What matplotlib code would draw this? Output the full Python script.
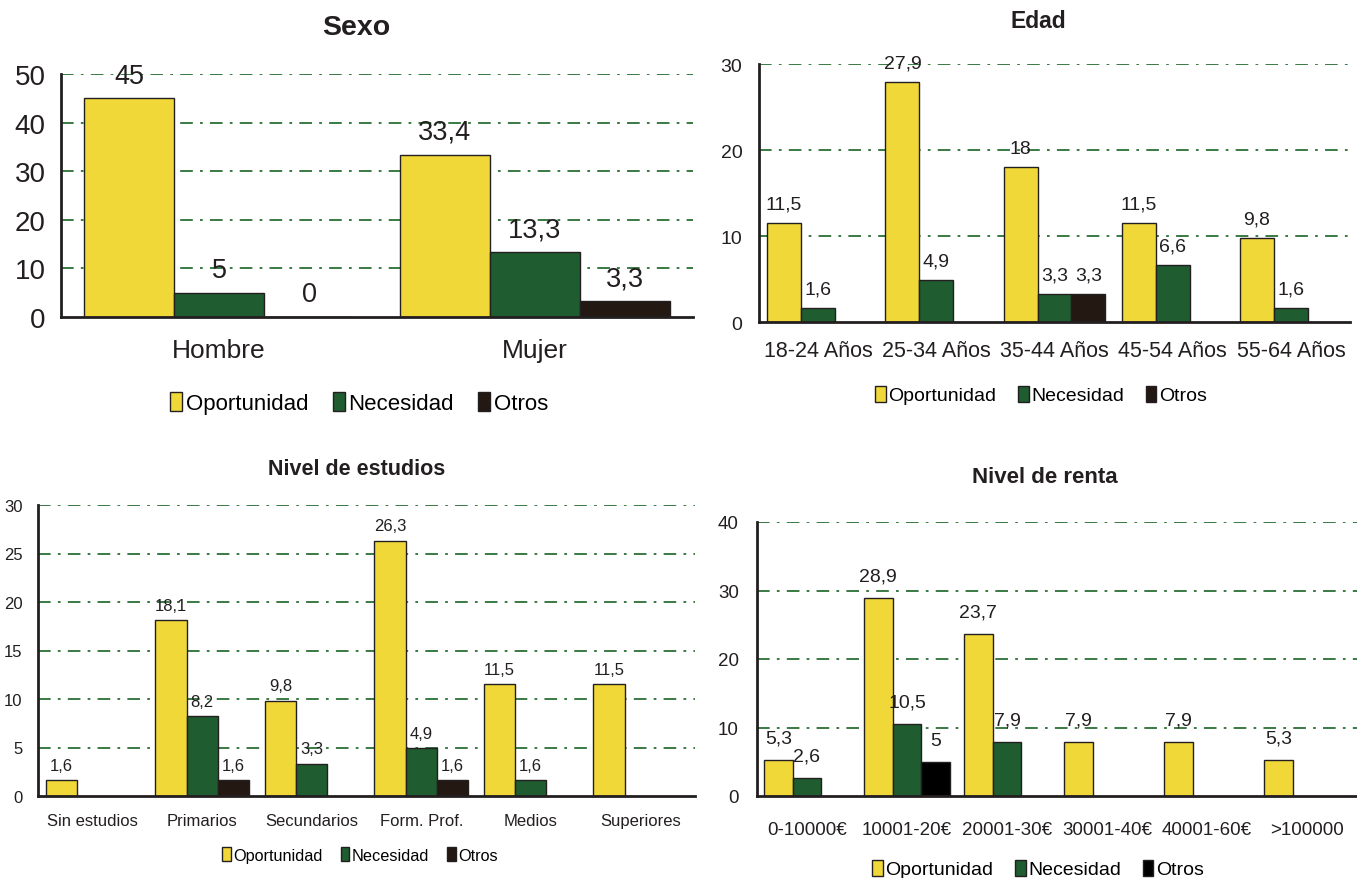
import numpy as np
import matplotlib
matplotlib.use("Agg")
import matplotlib.pyplot as plt
from matplotlib.patches import Patch

plt.rcParams['font.family'] = ['Liberation Sans', 'DejaVu Sans']

nan = np.nan

# Sexo
sexo_cats = ['Hombre', 'Mujer']
sexo_op = [45, 33.4]
sexo_nec = [5, 13.3]
sexo_otr = [0, 3.3]

# Edad
edad_cats = ['18-24 Años', '25-34 Años', '35-44 Años', '45-54 Años', '55-64 Años']
edad_op = [11.5, 27.9, 18, 11.5, 9.8]
edad_nec = [1.6, 4.9, 3.3, 6.6, 1.6]
edad_otr = [nan, nan, 3.3, nan, nan]

# Nivel de estudios
est_cats = ['Sin estudios', 'Primarios', 'Secundarios', 'Form. Prof.', 'Medios', 'Superiores']
est_op = [1.6, 18.1, 9.8, 26.3, 11.5, 11.5]
est_nec = [nan, 8.2, 3.3, 4.9, 1.6, nan]
est_otr = [nan, 1.6, nan, 1.6, nan, nan]

# Nivel de renta
renta_cats = ['0-10000€', '10001-20€', '20001-30€', '30001-40€', '40001-60€', '>100000']
renta_op = [5.3, 28.9, 23.7, 7.9, 7.9, 5.3]
renta_nec = [2.6, 10.5, 7.9, nan, nan, nan]
renta_otr = [nan, 5, nan, nan, nan, nan]

series_names = ['Oportunidad', 'Necesidad', 'Otros']
YELLOW = '#f1d839'
GREEN = '#1f5c30'
DARK = '#231812'
GRID = '#2a6e35'
AXIS = '#231f20'

W, H = 1357, 879
fig = plt.figure(figsize=(W / 100, H / 100), dpi=100)


def box(left, right, top, bottom):
    return [left / W, 1 - bottom / H, (right - left) / W, (bottom - top) / H]


def fmt(v):
    return ('%g' % v).replace('.', ',')


def panel(rect, cats, series, colors, ymax, ystep, title, title_xy, title_fs,
          fs, xtick_fs, ytick_fs, xpad, ypad, lab_off, leg_xy, leg_fs, bw=0.287):
    ax = fig.add_axes(box(*rect))
    n = len(cats)
    x = np.arange(n)
    for k, (vals, col) in enumerate(zip(series, colors)):
        vals = np.array(vals, dtype=float)
        pos = x + (k - 1) * bw
        ok = ~np.isnan(vals)
        ax.bar(pos[ok], vals[ok], width=bw, color=col, edgecolor=AXIS,
               linewidth=1.0, zorder=3)
        for p, v in zip(pos[ok], vals[ok]):
            ax.annotate(fmt(v), (p, v), xytext=(0, lab_off), textcoords='offset points',
                        ha='center', va='bottom', fontsize=fs, color=AXIS, zorder=4)
    ax.set_xlim(-0.5, n - 0.5)
    ax.set_ylim(0, ymax)
    ticks = np.arange(0, ymax + 0.1, ystep)
    ax.set_yticks(ticks)
    ax.set_yticklabels([('%g' % t) for t in ticks])
    for t in ticks[1:]:
        ax.axhline(t, color=GRID, lw=1.3, dashes=(7, 4, 1.5, 4), zorder=1)
    ax.set_xticks(x)
    ax.set_xticklabels(cats)
    for s in ['top', 'right']:
        ax.spines[s].set_visible(False)
    for s in ['left', 'bottom']:
        ax.spines[s].set_color(AXIS)
        ax.spines[s].set_linewidth(2)
    ax.spines['bottom'].set_zorder(5)
    ax.tick_params(axis='both', length=0, colors=AXIS)
    ax.tick_params(axis='x', pad=xpad, labelsize=xtick_fs)
    ax.tick_params(axis='y', pad=ypad, labelsize=ytick_fs)
    fig.text(title_xy[0] / W, 1 - title_xy[1] / H, title, ha='center', va='center',
             fontsize=title_fs, fontweight='bold', color=AXIS)
    handles = [Patch(facecolor=c, edgecolor=AXIS, linewidth=1) for c in colors]
    fig.legend(handles, series_names, loc='center', ncol=3, frameon=False,
               bbox_to_anchor=(leg_xy[0] / W, 1 - leg_xy[1] / H),
               fontsize=leg_fs, handlelength=0.55, handleheight=0.9,
               handletextpad=0.15, columnspacing=1.1, borderaxespad=0)
    return ax


panel((61, 693, 75, 318), sexo_cats, [sexo_op, sexo_nec, sexo_otr],
      [YELLOW, GREEN, DARK], 50, 10, 'Sexo', (356, 28), 20.5,
      19.5, 19, 20, 15, 11, 7, (359, 404), 16, bw=0.285)

panel((759, 1350, 65, 323), edad_cats, [edad_op, edad_nec, edad_otr],
      [YELLOW, GREEN, DARK], 30, 10, 'Edad', (1038, 22), 16.5,
      14, 15.5, 14, 13, 12, 7.5, (1041, 396), 14)

panel((38, 695, 506, 797), est_cats, [est_op, est_nec, est_otr],
      [YELLOW, GREEN, DARK], 30, 5, 'Nivel de estudios', (357, 470), 15.5,
      12, 12, 12, 12, 11, 5.5, (360, 856), 11.7)

panel((757, 1357, 523, 797), renta_cats, [renta_op, renta_nec, renta_otr],
      [YELLOW, GREEN, '#000000'], 40, 10, 'Nivel de renta', (1045, 478), 16,
      14, 13.5, 13.5, 18, 13, 9.5, (1038, 870), 14)

fig.savefig('out.png', dpi=100)
